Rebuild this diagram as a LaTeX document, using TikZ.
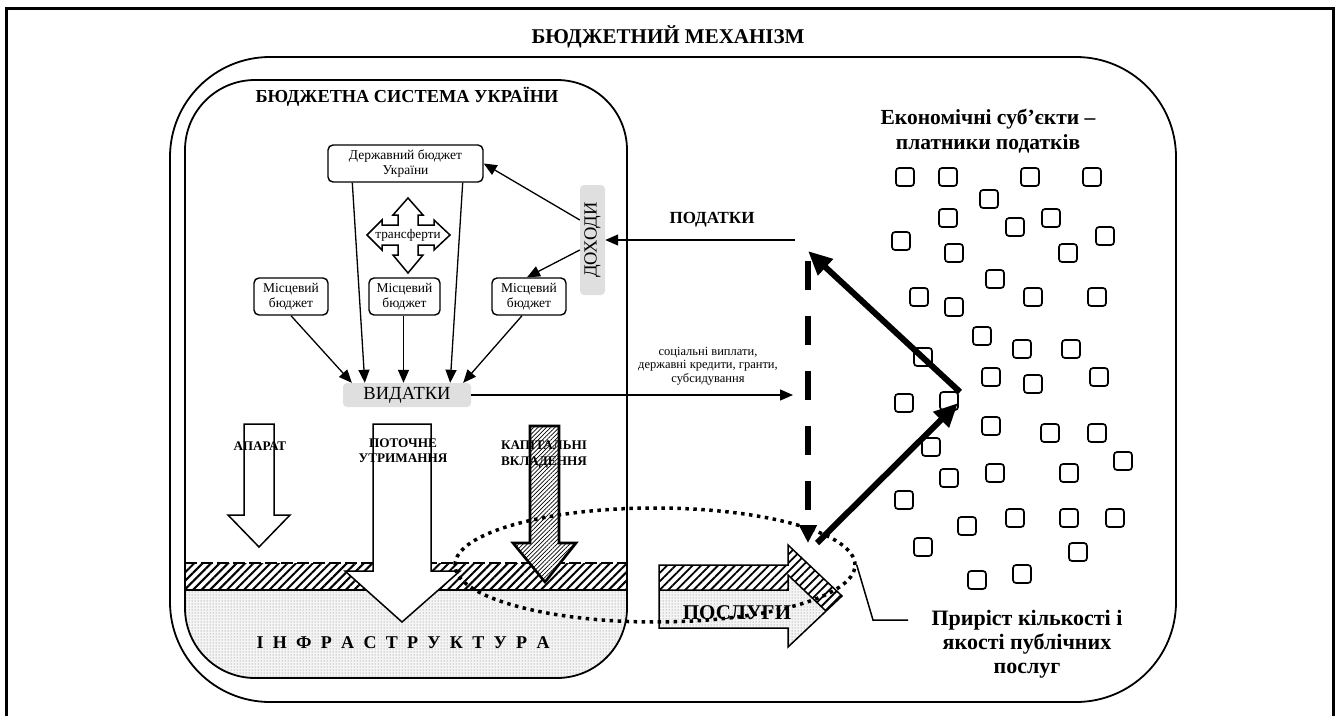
\documentclass[tikz,border=0pt]{standalone}
\usepackage{fontspec}
\setmainfont{Liberation Serif}
\usetikzlibrary{arrows.meta,patterns.meta,shapes.geometric,calc}
\newcommand\fsz[2]{\fontsize{#1pt}{#2pt}\selectfont}
\begin{document}
\begin{tikzpicture}[x=1pt,y=-1pt,
  budget/.style={draw,line width=1.4pt,rounded corners=5pt,align=center,
    inner sep=0pt,font=\fsz{13.5}{15.5}},
  graybox/.style={fill=gray!25,rounded corners=4pt,inner sep=0pt},
  lbl/.style={inner sep=0pt,align=center},
  conn/.style={line width=1.3pt,-{Triangle[length=13pt,width=11pt]}},
  fat/.style={line width=6pt,-{Triangle[length=24pt,width=21pt]}},
  sq/.style={draw,line width=1.7pt,rounded corners=3pt,minimum size=18pt,inner sep=0pt},
  hollow/.style={draw,fill=white,line width=1.5pt,line join=miter},
  dotline/.style={line width=3.5pt,dash pattern=on 3.5pt off 4.5pt},
  dotfill/.style={pattern={Dots[distance=3pt,radius=0.5pt]},pattern color=black!55}]
\useasboundingbox (0,0) rectangle (1336,715);

% page frame (open at the bottom edge)
\draw[line width=3pt] (6,730) -- (6,8) -- (1333,8) -- (1333,730);
\node[lbl,font=\bfseries\fsz{21}{25}] (title) at (668,37) {БЮДЖЕТНИЙ МЕХАНІЗМ};

% outer mechanism frame
\draw[line width=1.8pt,rounded corners=100pt] (170,57) rectangle (1176,702);

% budget system frame: hatched and dotted infrastructure layers
\begin{scope}
  \clip[rounded corners=70pt] (185,80) rectangle (627,678);
  \fill[pattern={Lines[angle=45,distance=6pt,line width=2pt]}] (185,563) rectangle (627,590);
  \fill[gray!8] (185,590) rectangle (627,700);
  \fill[dotfill] (185,590) rectangle (627,700);
\end{scope}
\draw[line width=1.5pt] (185,590) -- (627,590);
\draw[line width=1.5pt,dash pattern=on 12pt off 4pt] (185,563) -- (627,563);
\draw[line width=1.8pt,rounded corners=70pt] (185,80) rectangle (627,678);
\node[lbl,font=\bfseries\fsz{18.3}{20}] (syst) at (407,97) {БЮДЖЕТНА СИСТЕМА УКРАЇНИ};

% budgets
\node[budget,minimum width=155pt,minimum height=37pt] (db) at (405.5,163.5) {Державний бюджет\\України};
\node[budget,minimum width=74pt,minimum height=37pt] (lb1) at (291,296.5) {Місцевий\\бюджет};
\node[budget,minimum width=71pt,minimum height=37pt] (lb2) at (404.5,296.5) {Місцевий\\бюджет};
\node[budget,minimum width=74pt,minimum height=37pt] (lb3) at (529,296.5) {Місцевий\\бюджет};

% four-way transfer arrow
\coordinate (tc) at (408,235);
\draw[hollow,shift={(tc)}]
  (-10,-10) -- (-10,-20) -- (-15,-20) -- (0,-37) -- (15,-20) -- (10,-20) -- (10,-10)
  -- (26,-10) -- (26,-15) -- (42,0) -- (26,15) -- (26,10) -- (10,10)
  -- (10,20) -- (15,20) -- (0,38) -- (-15,20) -- (-10,20) -- (-10,10)
  -- (-26,10) -- (-26,15) -- (-41,0) -- (-26,-15) -- (-26,-10) -- cycle;
\node[lbl,font=\fsz{13.2}{15}] (trans) at (tc) {трансферти};

% revenues and expenditures
\node[graybox,minimum width=25pt,minimum height=110pt] (doh) at (592.5,240) {};
\node[lbl,rotate=90,font=\fsz{18.5}{20}] (dohtxt) at (doh.center) {ДОХОДИ};
\node[graybox,minimum width=128pt,minimum height=24pt,font=\fsz{18.5}{20}] (vyd) at (407,395) {ВИДАТКИ};

\draw[conn] ([yshift=20pt]doh.west) -- (db.east);
\draw[conn] ([yshift=-10pt]doh.west) -- ([xshift=-2pt]lb3.north);
\draw[conn] ([xshift=25pt]db.south west) -- ([xshift=22pt]vyd.north west);
\draw[conn] ([xshift=-21pt]db.south east) -- ([xshift=-21pt]vyd.north east);
\draw[conn] (lb1.south) -- ([xshift=9pt]vyd.north west);
\draw[conn] ([xshift=-1pt]lb2.south) -- ([xshift=-1pt]lb2.south |- vyd.north);
\draw[conn] ([xshift=-7pt]lb3.south) -- ([xshift=-8pt]vyd.north east);

% taxes and payments
\coordinate (taxsrc) at (795,240);
\coordinate (payend) at (793,395);
\draw[conn] (taxsrc) -- (doh.east);
\node[lbl,font=\bfseries\fsz{17}{19}] (tax) at (712,220) {ПОДАТКИ};
\draw[conn] (vyd.east) -- (payend);
\node[lbl,font=\fsz{12.5}{13.5}] (pays) at (708,366) {соціальні виплати,\\державні кредити, гранти,\\субсидування};

% spending arrows
\draw[hollow] (244,424) -- (274,424) -- (274,515) -- (290,515) -- (259,547) -- (228,515) -- (244,515) -- cycle;
\node[lbl,font=\bfseries\fsz{13.2}{15}] (apar) at (260,446) {АПАРАТ};
\draw[hollow] (373,424) -- (431,424) -- (431,571) -- (460,571) -- (402,622) -- (345,571) -- (373,571) -- cycle;
\node[lbl,font=\bfseries\fsz{13.2}{15}] (potoch) at (403,451) {ПОТОЧНЕ\\УТРИМАННЯ};
\path[fill=white] (530,426) -- (559,426) -- (559,543) -- (576,543) -- (545,582) -- (513,543) -- (530,543) -- cycle;
\draw[line width=2.6pt,line join=miter,pattern={Lines[angle=45,distance=3pt,line width=0.7pt]}]
  (530,426) -- (559,426) -- (559,543) -- (576,543) -- (545,582) -- (513,543) -- (530,543) -- cycle;
\node[lbl,font=\bfseries\fsz{13.2}{16}] (kap) at (544,455) {КАПІТАЛЬНІ\\ВКЛАДЕННЯ};

\node[lbl,font=\bfseries\fsz{18}{20}] (infra) at (403,643)
  {\makebox[293pt]{І\hfill Н\hfill Ф\hfill Р\hfill А\hfill С\hfill Т\hfill Р\hfill У\hfill К\hfill Т\hfill У\hfill Р\hfill А}};

% services arrow: hatched upper band, dotted lower body
\path[fill=white] (659,565) -- (788,565) -- (788,545) -- (842,596) -- (788,647) -- (788,628) -- (659,628) -- cycle;
\path[pattern={Lines[angle=45,distance=6pt,line width=1.8pt]}]
  (659,565) -- (788,565) -- (788,545) -- (842,596) -- (788,647) -- (788,628) -- (659,628) -- cycle;
\path[fill=white] (659,590) -- (788,590) -- (788,575) -- (826,611) -- (788,647) -- (788,628) -- (659,628) -- cycle;
\path[fill=gray!8] (659,590) -- (788,590) -- (788,575) -- (826,611) -- (788,647) -- (788,628) -- (659,628) -- cycle;
\path[dotfill]
  (659,590) -- (788,590) -- (788,575) -- (826,611) -- (788,647) -- (788,628) -- (659,628) -- cycle;
\draw[line width=1.5pt] (659,590) -- (788,590) -- (788,575) -- (826,611);
\draw[line width=1.5pt,line join=miter]
  (659,565) -- (788,565) -- (788,545) -- (842,596) -- (788,647) -- (788,628) -- (659,628) -- cycle;
\node[lbl,font=\bfseries\fsz{21}{23}] (posl) at (737,613) {ПОСЛУГИ};

% taxpayers
\node[lbl,font=\bfseries\fsz{21.5}{25}] (subj) at (988,131) {Економічні суб’єкти –\\платники податків};
\foreach \p [count=\i] in {(905,177),(948,177),(1030,177),(1092,177),(989,199),
  (948,218),(1051,218),(1015,227),(901,241),(1105,236),(954,253),(1068,253),
  (995,279),(919,297),(1033,297),(1097,297),(954,307),(982,336),(1022,349),
  (1071,349),(923,357),(991,377),(1033,384),(1099,377),(904,403),(949,401),
  (991,426),(931,447),(1050,433),(1097,433),(1123,461),(949,478),(995,473),
  (1069,473),(904,500),(1015,518),(1069,518),(1115,518),(967,526),(923,547),
  (1078,552),(977,580),(1022,574)}
  \node[sq] (s\i) at \p {};

% tax and service flows
\coordinate (apex) at (960,392);
\coordinate (apexin) at (958,403);
\coordinate (taxtip) at (808,251);
\coordinate (svcfoot) at (817,543);
\coordinate (dashtop) at (808,261);
\coordinate (dashtip) at (808,543);
\draw[fat] (apex) -- (taxtip);
\draw[fat] (svcfoot) -- (apexin);
\draw[line width=6pt,dash pattern=on 29pt off 26pt,-{Triangle[length=18pt,width=17pt]}] (dashtop) -- (dashtip);

% growth of public services
\node[ellipse,draw,dotline,minimum width=400pt,minimum height=114pt,inner sep=0pt] (ell) at (655,565) {};
\coordinate (callbend) at (873,620);
\coordinate (callend) at (908,620);
\draw[line width=1.5pt] (ell.east) -- (callbend) -- (callend);
\node[lbl,font=\bfseries\fsz{22}{24}] (growth) at (1027,644) {Приріст кількості і\\якості публічних\\послуг};
\end{tikzpicture}
\end{document}
